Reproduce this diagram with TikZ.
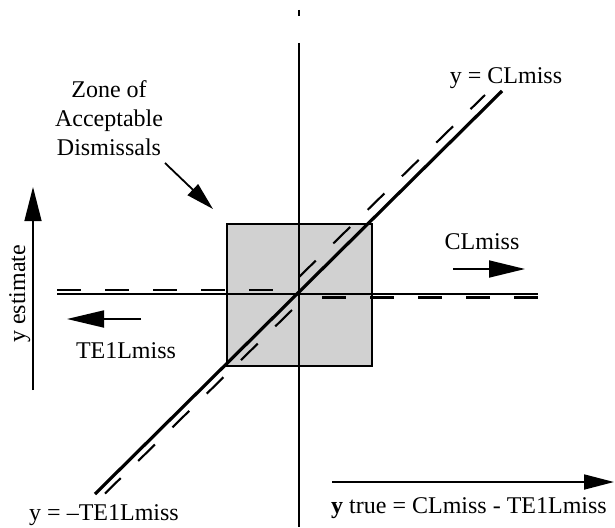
\documentclass[tikz,border=0pt]{standalone}
\usepackage{fontspec}
\setmainfont{Liberation Serif}
\usetikzlibrary{positioning,arrows.meta,calc}

\begin{document}
\begin{tikzpicture}[x=1pt, y=-1pt,
  every node/.style={font=\fontsize{24}{29}\selectfont, inner sep=0pt},
  axis/.style={line width=1.1pt, black},
  ideal/.style={line width=3.2pt, black},
  estim/.style={line width=2.1pt, black, dash pattern=on 23.5pt off 24.5pt},
  zone/.style={draw=black, line width=1.5pt, fill=black!18},
  bigarr/.style={-{Triangle[length=#1, width=17pt]}, line width=1.8pt},
  bigarr/.default=35pt,
  lbl/.style={anchor=base},
]
\useasboundingbox (0,0) rectangle (615,527);

% origin and zone of acceptable dismissals
\coordinate (O) at (299,294);
\node[zone, minimum width=145pt, minimum height=142pt] (Z) at (299.5,295) {};

% axes through the origin
\coordinate (vtop) at (299,43);
\coordinate (vbot) at (299,527);
\coordinate (tick) at (299,10);
\coordinate (tickb) at (299,16);
\coordinate (hl) at (57,294);
\coordinate (hr) at (538,294);
\draw[axis] (vtop) -- (vbot);
\draw[axis] (tick) -- (tickb);
\draw[axis, line width=1.7pt] (hl) -- (hr);

% dashed estimates
\coordinate (el1) at (57,290);
\coordinate (el2) at (275,290);
\coordinate (er1) at (322,297.5);
\coordinate (er2) at (538,297.5);
\coordinate (eu1) at (299,277);
\coordinate (eu2) at (485,95);
\coordinate (ed1) at (292,310);
\coordinate (ed2) at (105,493.5);
\draw[estim] (el1) -- (el2);
\draw[estim] (er1) -- (er2);
\draw[estim] (eu1) -- (eu2);
\draw[estim] (ed1) -- (ed2);

% ideal line y = x
\coordinate (dlo) at (95,494);
\coordinate (dhi) at (502,91);
\draw[ideal] (dlo) -- (dhi);

% labels of the two limit lines
\node[lbl] (cltop) at (506,83) {y = CLmiss};
\node[lbl] (tebot) at (104,520) {y = --TE1Lmiss};

% zone label and its arrow
\node[align=center] (zlab) at (109,118) {Zone of\\Acceptable\\Dismissals};
\coordinate (za1) at (165,163);
\coordinate (za2) at (213,209);
\draw[-{Triangle[length=28pt, width=15pt]}, line width=1.8pt] (za1) -- (za2);

% y estimate axis
\coordinate (ya1) at (33,390);
\coordinate (ya2) at (33,187);
\draw[bigarr=34pt, line width=1.4pt] (ya1) -- (ya2);
\node[lbl, rotate=90] (ylab) at (25,294) {y estimate};

% direction arrows
\coordinate (la1) at (141,319);
\coordinate (la2) at (67,319);
\draw[bigarr=37pt] (la1) -- (la2);
\node[lbl] (telab) at (126,358) {TE1Lmiss};
\coordinate (ra1) at (453,269);
\coordinate (ra2) at (525,269);
\draw[bigarr=36pt] (ra1) -- (ra2);
\node[lbl] (cllab) at (482,249) {CLmiss};

% y true axis
\coordinate (xa1) at (332,482);
\coordinate (xa2) at (614,482);
\draw[-{Triangle[length=30pt, width=15pt]}, line width=1.8pt] (xa1) -- (xa2);
\node[lbl] (xlab) at (469,513) {\textbf{y} true = CLmiss - TE1Lmiss};

\end{tikzpicture}
\end{document}
